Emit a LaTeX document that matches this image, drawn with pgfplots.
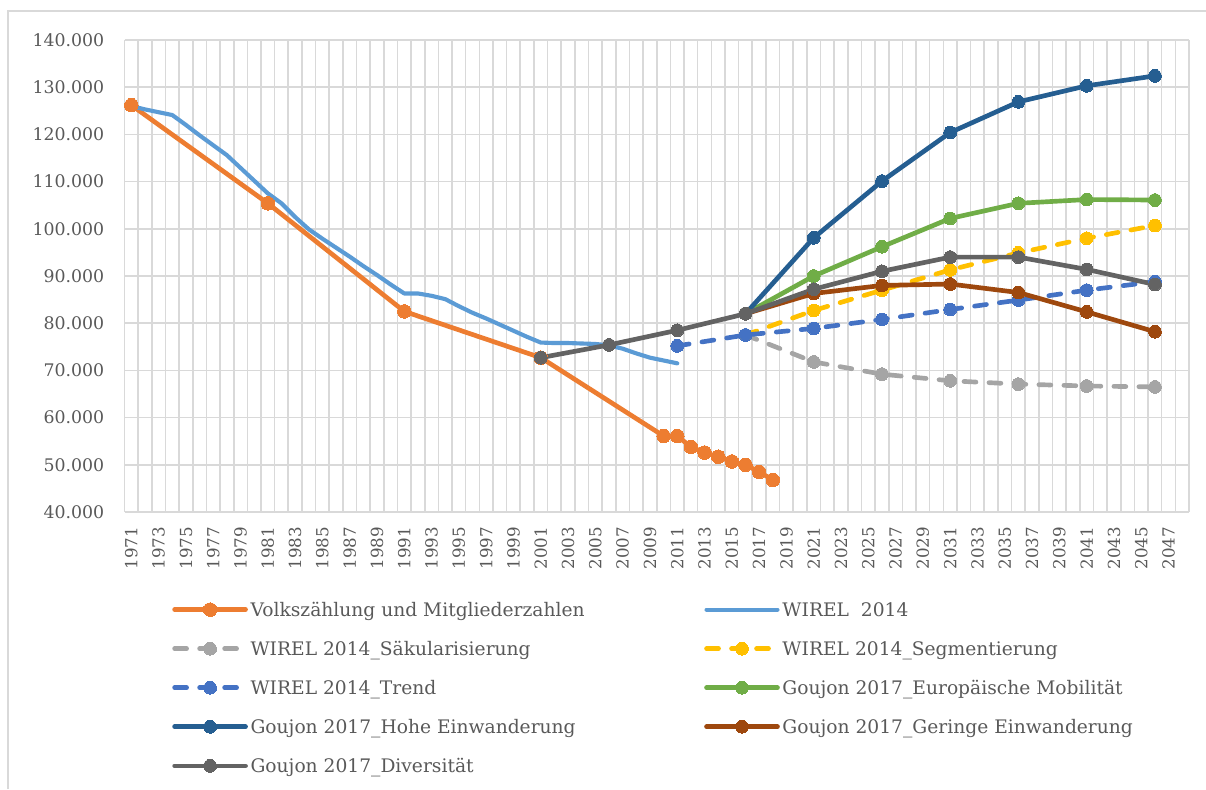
\documentclass[border=0pt]{standalone}
\usepackage{fontspec}
\setmainfont{DejaVu Serif}
\usepackage{pgfplots}
\pgfplotsset{compat=1.18}
\definecolor{cOrange}{HTML}{ED7D31}
\definecolor{cLBlue}{HTML}{5B9BD5}
\definecolor{cLGray}{HTML}{A5A5A5}
\definecolor{cYellow}{HTML}{FFC000}
\definecolor{cBlue}{HTML}{4472C4}
\definecolor{cGreen}{HTML}{70AD47}
\definecolor{cDBlue}{HTML}{255E91}
\definecolor{cBrown}{HTML}{9E480E}
\definecolor{cDGray}{HTML}{636363}
\definecolor{cGrid}{HTML}{D9D9D9}
\definecolor{cText}{HTML}{595959}
\newcommand{\LE}[1]{\makebox[338.25pt][l]{\strut #1}}
\newcommand{\LEb}[1]{\strut #1}
\pgfplotsset{
  ser/.style={line width=3.5pt, line cap=round, line join=round, color=#1, mark=*, mark size=4.8pt,
    mark options={solid, fill=#1, draw=#1, line width=0pt}},
  dser/.style={ser=#1, dash pattern=on 9pt off 9.75pt},
}
\begin{document}
\begin{tikzpicture}[x=0.75pt,y=-0.75pt]
\useasboundingbox (0,0) rectangle (1206,789);
\draw[cGrid, line width=1.3pt] (8,789) -- (8,11) -- (1206,11);
\begin{axis}[
  at={(93.4pt,-384pt)}, anchor=south west,
  scale only axis, width=798.4pt, height=354pt,
  xmin=1970.5, xmax=2048.5, ymin=40000, ymax=140000,
  xtick={1971,1973,...,2047},
  minor xtick={1970.5,1971.5,...,2048.5},
  ytick={40000,50000,...,140000},
  xminorgrids, ymajorgrids,
  minor grid style={cGrid, line width=1.2pt},
  major grid style={cGrid, line width=1.2pt},
  axis line style={draw=none},
  major tick length=0pt, minor tick length=0pt,
  scaled y ticks=false, scaled x ticks=false,
  /pgf/number format/assume math mode=true,
  xticklabel style={rotate=90, anchor=east, inner sep=0pt, text=cText,
    font=\fontsize{12.5}{14}\selectfont, /pgf/number format/1000 sep={}},
  yticklabel style={anchor=east, inner sep=0pt, text=cText,
    font=\fontsize{13}{15}\selectfont, /pgf/number format/1000 sep={.}, /pgf/number format/fixed},
  xticklabel shift=11pt,
  yticklabel shift=15pt,
  legend columns=2,
  legend cell align=left,
  legend image code/.code={\draw[mark repeat=2,mark phase=2,#1] plot coordinates {(0pt,0pt) (26.6pt,0pt) (53.2pt,0pt)};},
  legend style={at={(0.0446,-0.1816)}, anchor=north west, draw=none, fill=none, inner sep=0pt,
    font=\fontsize{14}{17}\selectfont, text=cText, row sep=11.9pt,
    /tikz/every odd column/.append style={column sep=0pt},
    /tikz/every even column/.append style={column sep=0pt}},
]
% Volkszaehlung und Mitgliederzahlen
\addplot[ser=cOrange, mark size=5.1pt] coordinates {
(1971,126200) (1981,105400) (1991,82500) (2001,72700) (2010,56100) (2011,56100)
(2012,53800) (2013,52600) (2014,51700) (2015,50700) (2016,50000) (2017,48500) (2018,46800)};
\addlegendentry{\LE{Volkszählung und Mitgliederzahlen}}
% WIREL 2014
\addplot[line width=3.1pt, line cap=round, line join=round, color=cLBlue, mark=none] coordinates {
(1971,126000) (1972,125300) (1973,124700) (1974,124100) (1975,122000) (1976,119800)
(1977,117700) (1978,115600) (1979,112900) (1980,110200) (1981,107500) (1982,105400)
(1983,102500) (1984,99900) (1985,97900) (1986,96000) (1987,94100) (1988,92100)
(1989,90200) (1990,88200) (1991,86300) (1992,86300) (1993,85800) (1994,85100)
(1995,83600) (1996,82200) (1997,81000) (1998,79700) (1999,78400) (2000,77100)
(2001,75900) (2002,75800) (2003,75800) (2004,75700) (2005,75600) (2006,75300)
(2007,74600) (2008,73600) (2009,72700) (2010,72100) (2011,71500)};
\addlegendentry{\LEb{WIREL\ \ 2014}}
% Saekularisierung
\addplot[dser=cLGray] coordinates {
(2016,77500) (2021,71800) (2026,69200) (2031,67800) (2036,67100) (2041,66700) (2046,66500)};
\addlegendentry{\LE{WIREL 2014\_Säkularisierung}}
% Segmentierung
\addplot[dser=cYellow] coordinates {
(2016,77500) (2021,82700) (2026,87000) (2031,91300) (2036,94900) (2041,98000) (2046,100700)};
\addlegendentry{\LEb{WIREL 2014\_Segmentierung}}
% Trend
\addplot[dser=cBlue] coordinates {
(2011,75200) (2016,77500) (2021,78900) (2026,80800) (2031,82900) (2036,84900) (2041,87000) (2046,88800)};
\addlegendentry{\LE{WIREL 2014\_Trend}}
% Europaeische Mobilitaet
\addplot[ser=cGreen] coordinates {
(2016,82000) (2021,90000) (2026,96200) (2031,102200) (2036,105400) (2041,106200) (2046,106100)};
\addlegendentry{\LEb{Goujon 2017\_Europäische Mobilität}}
% Hohe Einwanderung
\addplot[ser=cDBlue] coordinates {
(2016,82000) (2021,98100) (2026,110100) (2031,120400) (2036,126900) (2041,130300) (2046,132400)};
\addlegendentry{\LE{Goujon 2017\_Hohe Einwanderung}}
% Geringe Einwanderung
\addplot[ser=cBrown] coordinates {
(2016,82000) (2021,86300) (2026,88000) (2031,88300) (2036,86500) (2041,82400) (2046,78200)};
\addlegendentry{\LEb{Goujon 2017\_Geringe Einwanderung}}
% Diversitaet
\addplot[ser=cDGray] coordinates {
(2001,72700) (2006,75400) (2011,78500) (2016,82000) (2021,87200) (2026,91000) (2031,94000) (2036,94000) (2041,91400) (2046,88200)};
\addlegendentry{\LE{Goujon 2017\_Diversität}}
\end{axis}
\end{tikzpicture}
\end{document}
